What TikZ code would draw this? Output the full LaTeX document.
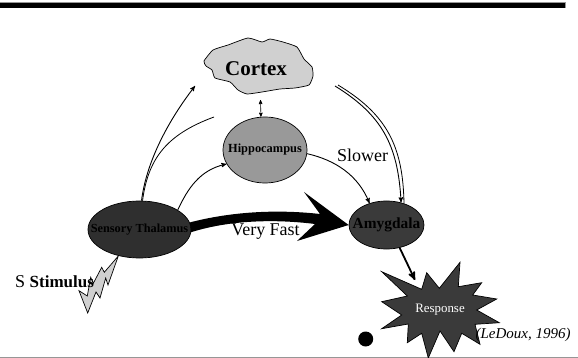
\documentclass[tikz,border=0pt]{standalone}
\usepackage{fontspec}
\setmainfont{Liberation Serif}
\usetikzlibrary{arrows}
\usetikzlibrary{shapes}
\definecolor{cortexgray}{RGB}{208, 208, 208}
\definecolor{hippogray}{RGB}{153, 153, 153}
\definecolor{thalamusgray}{RGB}{47, 47, 47}
\definecolor{amygdalagray}{RGB}{58, 58, 58}
\definecolor{edgegray}{RGB}{150, 150, 150}
\tikzset{
    arrow/.style={->,>=stealth', line width=0.9pt},
    blob/.style = {
      ellipse,
      draw=black,
      line width=0.7pt,
      inner sep=0pt,
      text=black
    },
    word/.style = {
      inner sep=0pt,
      font=\fontsize{18}{20}\selectfont
    },
}

\begin{document}
\begin{tikzpicture}[x=1pt,y=-1pt]
        \useasboundingbox (0,0) rectangle (578,358);

        % rules at top and bottom
        \fill[edgegray] (0,2) rectangle (566,8.5);
        \fill[black] (0,3.2) rectangle (565,8.5);
        \fill[edgegray] (0,356.6) rectangle (578,358);

        % outlines without a regular shape
        \draw[fill=cortexgray, line width=0.7pt] plot[smooth cycle, tension=0.3] coordinates {
          (204,61) (213,50) (228,45) (248,38) (262,42) (270,39) (283,42) (297,47)
          (304,59) (312,67) (313,76) (309,85) (295,88) (280,89) (262,92) (247,94)
          (238,90) (230,82) (215,78) (212,70) (206,66)};
        \draw[fill=cortexgray, line width=0.7pt] (118.3,256) -- (108,285) -- (105.7,278)
          -- (100,298) -- (96,292) -- (87.7,313) -- (79,290.7) -- (87.3,296) -- (90.7,277.3)
          -- (93.3,283.3) -- (101.7,267.3) -- (104.3,272.3) -- cycle;
        \draw[fill=amygdalagray, line width=0.7pt] (381.7,271.7) -- (421.7,289.3) -- (426.7,272.7)
          -- (439.3,288.3) -- (460,262.3) -- (458.3,286.7) -- (481.7,282.7) -- (472.7,295)
          -- (496.7,299) -- (476.7,310) -- (499.3,322.7) -- (475,324.3) -- (480,344.3)
          -- (461.7,333.3) -- (454,351.7) -- (440,331) -- (428.3,358) -- (421.7,333.3)
          -- (407.3,342.7) -- (408.3,324) -- (381.7,328.7) -- (401.7,315) -- (381.7,301.7)
          -- (407.3,296) -- cycle;

        \node[inner sep=0pt, font=\fontsize{21}{23}\bfseries] (cortex) at (256,69) {Cortex};
        \node[blob, fill=hippogray, minimum width=84pt, minimum height=66pt,
          font=\fontsize{12.4}{14}\bfseries] (hippocampus) at (265,150) {\makebox[0pt]{Hippocampus}};
        \node[blob, fill=thalamusgray, minimum width=103pt, minimum height=57pt,
          font=\fontsize{12.3}{14}\bfseries] (thalamus) at (139.5,229.5) {\makebox[0pt]{Sensory Thalamus}};
        \node[blob, fill=amygdalagray, minimum width=75pt, minimum height=48pt,
          font=\fontsize{15.4}{17}\bfseries] (amygdala) at (386.5,225) {\makebox[0pt]{Amygdala}};
        \node[inner sep=0pt, text=white, font=\fontsize{12.9}{14}\selectfont] (response) at (440,309.5) {Response};
        \node[circle, fill=black, minimum size=15pt, inner sep=0pt] (dot) at (365.7,339) {};

        \node[word] (slower) at (362.5,155.5) {Slower};
        \node[word] (veryfast) at (265.5,232) {Very Fast};
        \node[word, anchor=west] (stimulus) at (15,282) {S \fontsize{17}{19}\bfseries Stimulus};
        \node[inner sep=0pt, font=\fontsize{15}{17}\itshape] (ledoux) at (523,334.5) {(LeDoux, 1996)};

        \coordinate (cortexleft) at (195,86);
        \coordinate (cortexstop) at (214,117);
        \coordinate (cortexbelow) at (260.5,100);
        \coordinate (cortexinner) at (335,86);
        \coordinate (cortexouter) at (338,85);
        \coordinate (responsetop) at (415,280);

        \draw[arrow] (thalamus.86) .. controls (146,165) and (165,125) .. (cortexleft);
        \draw[line width=0.8pt] (thalamus.84) .. controls (148,160) and (165,135) .. (cortexstop);
        \draw[arrow] (thalamus.27.5) .. controls (188,188) and (200,170) .. (hippocampus.200);
        \draw[<->,>=stealth', line width=0.6pt] (hippocampus.97) -- (cortexbelow);
        \draw[arrow] (hippocampus.-5) .. controls (335,160) and (358,175) .. (amygdala.128);
        \draw[arrow] (cortexinner) .. controls (382,115) and (398,145) .. (amygdala.57);
        \draw[line width=0.8pt] (cortexouter) .. controls (386,114) and (403,145) .. (amygdala.51);
        \draw[->,>=stealth', line width=1.8pt] (amygdala.-60) -- (responsetop);

        % the fast path is a filled shape with a wide head
        \fill[black] (thalamus.8) .. controls (230,212) and (275,209) .. (320,214)
          -- (304,192) -- (amygdala.west) -- (297,241) -- (315,224)
          .. controls (275,219) and (230,220) .. (thalamus.-3) -- cycle;
      \end{tikzpicture}
\end{document}
